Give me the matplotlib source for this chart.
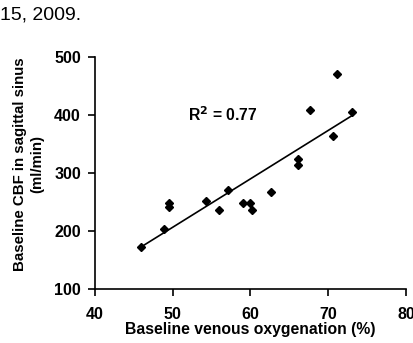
import numpy as np
import matplotlib
matplotlib.use("Agg")
import matplotlib.pyplot as plt

# venous oxygenation (%) vs CBF (ml/min)
oxygenation = [45.9, 48.9, 49.5, 49.5, 54.3, 55.9, 57.1, 59.1, 60.0, 60.2,
               62.6, 66.1, 66.1, 67.7, 71.1, 70.6, 73.1]
cbf = [172, 204, 249, 241, 251, 236, 270, 249, 249, 237,
       267, 325, 314, 408, 471, 363, 405]
x_ticks = [40, 50, 60, 70, 80]
y_ticks = [100, 200, 300, 400, 500]

plt.rcParams['font.family'] = ['Liberation Sans', 'DejaVu Sans']

fig = plt.figure(figsize=(4.14, 3.43), dpi=100)
ax = fig.add_axes([0.229, 0.157, 0.752, 0.677])

ax.plot(oxygenation, cbf, linestyle='none', marker='D', markersize=4.4,
        color='black')

# linear fit line over the data range
slope, intercept = np.polyfit(oxygenation, cbf, 1)
xs = np.array([min(oxygenation), max(oxygenation)])
ax.plot(xs, slope * xs + intercept, color='black', linewidth=1.2)

ax.text(52.0, 401, r'R$^\mathbf{2}$ = 0.77', fontsize=11.3, fontweight='bold',
        va='center', ha='left')

ax.set_xlim(40, 80)
ax.set_ylim(100, 500)
ax.set_xticks(x_ticks)
ax.set_yticks(y_ticks)
for side in ['top', 'right']:
    ax.spines[side].set_visible(False)
for side in ['left', 'bottom']:
    ax.spines[side].set_linewidth(1.2)
ax.tick_params(direction='out', length=5, width=1.2, labelsize=11.5, pad=5)
for lbl in ax.get_xticklabels() + ax.get_yticklabels():
    lbl.set_fontweight('bold')
ax.tick_params(axis='x', pad=8)

ax.set_xlabel('Baseline venous oxygenation (%)', fontsize=11.3,
              fontweight='bold', labelpad=0)
ax.set_ylabel('Baseline CBF in sagittal sinus\n(ml/min)', fontsize=10.8,
              fontweight='bold', linespacing=1.3)
ax.yaxis.set_label_coords(-0.162, 0.54)

fig.text(0.0, 0.955, '15, 2009.', fontsize=14, ha='left', va='center')

fig.savefig('out.png', dpi=100)
